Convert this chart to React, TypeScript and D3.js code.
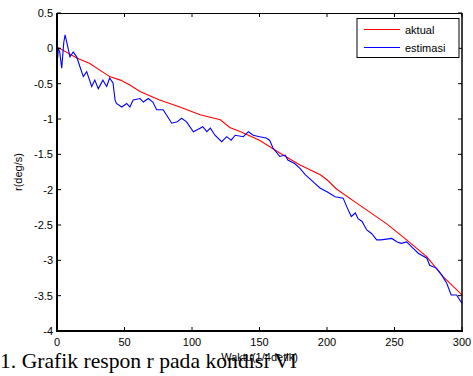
import React from "react";
import * as d3 from "d3";

const xTicks = [0, 50, 100, 150, 200, 250, 300];
const yTicks = [0.5, 0, -0.5, -1, -1.5, -2, -2.5, -3, -3.5, -4];

const aktualT = [0, 15, 24, 39, 47, 54, 61.5, 76, 91, 106, 121, 128, 136, 150, 165, 180, 195, 200, 207, 222, 244, 259, 274, 286, 300];
const aktualV = [0.02, -0.14, -0.21, -0.4, -0.45, -0.52, -0.61, -0.73, -0.83, -0.94, -1.01, -1.12, -1.18, -1.3, -1.48, -1.65, -1.79, -1.86, -1.99, -2.19, -2.48, -2.71, -2.95, -3.23, -3.49];

const estT = [0, 0.5, 1, 2, 3.5, 5, 6, 8, 9.6, 12, 14.6, 17, 19.5, 22, 25.7, 28, 30.6, 34, 36.8, 39, 41.5, 43, 44, 48, 51.6, 54, 56.4, 61.5, 64, 67.6, 71, 73.8, 78.6, 81, 85, 89, 92.3, 96, 101, 106, 108, 111, 113.6, 117, 122, 125.7, 129, 132, 138, 141.7, 145.4, 150, 155, 157.5, 160, 165, 169, 171, 176, 180, 184, 187, 191, 195, 200, 206, 212, 214.6, 218, 221, 223, 226, 229.4, 233, 236.8, 240, 244, 248, 252, 255, 259, 262.7, 267.6, 274, 276, 281, 285, 288.6, 292, 296, 300];
const estV = [0.02, -0.14, 0, -0.05, -0.28, 0.08, 0.19, 0.02, -0.12, -0.05, -0.12, -0.26, -0.4, -0.33, -0.54, -0.45, -0.57, -0.45, -0.54, -0.42, -0.49, -0.73, -0.78, -0.83, -0.78, -0.83, -0.73, -0.71, -0.76, -0.71, -0.76, -0.87, -0.87, -0.94, -1.06, -1.04, -0.99, -1.04, -1.18, -1.13, -1.11, -1.18, -1.13, -1.23, -1.32, -1.25, -1.3, -1.23, -1.25, -1.18, -1.23, -1.25, -1.27, -1.3, -1.41, -1.53, -1.51, -1.58, -1.63, -1.7, -1.79, -1.84, -1.91, -1.98, -2.03, -2.1, -2.12, -2.24, -2.38, -2.33, -2.41, -2.45, -2.57, -2.62, -2.71, -2.71, -2.7, -2.69, -2.74, -2.76, -2.74, -2.81, -2.9, -2.97, -3.07, -3.11, -3.21, -3.32, -3.49, -3.49, -3.61];

const seriesNames = ["aktual", "estimasi"];
const seriesColors = ["#ff0000", "#0000ff"];

const W = 473;
const H = 376;
const L = 57, R = 462, T = 13, B = 331;

export default function App() {
  const x = d3.scaleLinear().domain([0, 300]).range([L, R]);
  const y = d3.scaleLinear().domain([-4, 0.5]).range([B, T]);
  const line = d3.line<[number, number]>().x((d) => x(d[0])).y((d) => y(d[1]));
  const aktual = aktualT.map((t, i) => [t, aktualV[i]] as [number, number]);
  const est = estT.map((t, i) => [t, estV[i]] as [number, number]);
  const font = "'Liberation Sans', Arial, sans-serif";
  const fmt = (v: number) => String(v);
  return (
    <svg width={W} height={H} style={{ position: "absolute", left: 0, top: 0, background: "#fff" }}>
      <rect x={0} y={0} width={W} height={H} fill="#fff" />
      <defs>
        <clipPath id="plotclip">
          <rect x={L} y={T} width={R - L} height={B - T} />
        </clipPath>
      </defs>
      <g clipPath="url(#plotclip)" fill="none" strokeWidth={1.1}>
        <path d={line(aktual) || ""} stroke={seriesColors[0]} />
        <path d={line(est) || ""} stroke={seriesColors[1]} />
      </g>
      {/* ticks */}
      <g stroke="#000" strokeWidth={1}>
        {xTicks.map((t) => (
          <g key={"xt" + t}>
            <line x1={x(t)} x2={x(t)} y1={B} y2={B - 4} />
            <line x1={x(t)} x2={x(t)} y1={T} y2={T + 4} />
          </g>
        ))}
        {yTicks.map((t) => (
          <g key={"yt" + t}>
            <line x1={L} x2={L + 4} y1={y(t)} y2={y(t)} />
            <line x1={R} x2={R - 4} y1={y(t)} y2={y(t)} />
          </g>
        ))}
      </g>
      {/* box */}
      <line x1={L} x2={R} y1={T + 0.5} y2={T + 0.5} stroke="#000" strokeWidth={1} />
      <line x1={L} x2={R + 1} y1={B} y2={B} stroke="#000" strokeWidth={2} />
      <line x1={L} x2={L} y1={T} y2={B + 1} stroke="#000" strokeWidth={2} />
      <line x1={R} x2={R} y1={T} y2={B + 1} stroke="#000" strokeWidth={1.5} />
      {/* tick labels */}
      <g fontFamily={font} fontSize={11} fill="#000">
        {xTicks.map((t) => (
          <text key={"xl" + t} x={x(t)} y={346} textAnchor="middle">{fmt(t)}</text>
        ))}
        {yTicks.map((t) => (
          <text key={"yl" + t} x={53} y={y(t) + 4} textAnchor="end">{fmt(t)}</text>
        ))}
      </g>
      {/* axis labels */}
      <text x={(L + R) / 2} y={361} textAnchor="middle" fontFamily={font} fontSize={11}>Waktu(1/4detik)</text>
      <text transform={`translate(22,${(T + B) / 2}) rotate(-90)`} textAnchor="middle" fontFamily={font} fontSize={11}>r(deg/s)</text>
      {/* legend */}
      <g>
        <rect x={357} y={18.5} width={102} height={39} fill="#fff" stroke="#000" strokeWidth={1} />
        {seriesNames.map((n, i) => (
          <g key={n}>
            <line x1={364} x2={400} y1={29.5 + i * 18} y2={29.5 + i * 18} stroke={seriesColors[i]} strokeWidth={1.1} />
            <text x={405} y={33.5 + i * 18} fontFamily={font} fontSize={11}>{n}</text>
          </g>
        ))}
      </g>
      {/* caption */}
      <text x={0} y={368} fontFamily="'Liberation Serif', 'Times New Roman', serif" fontSize={21.5} textLength={297} lengthAdjust="spacingAndGlyphs">1. Grafik respon r pada kondisi VI</text>
    </svg>
  );
}
